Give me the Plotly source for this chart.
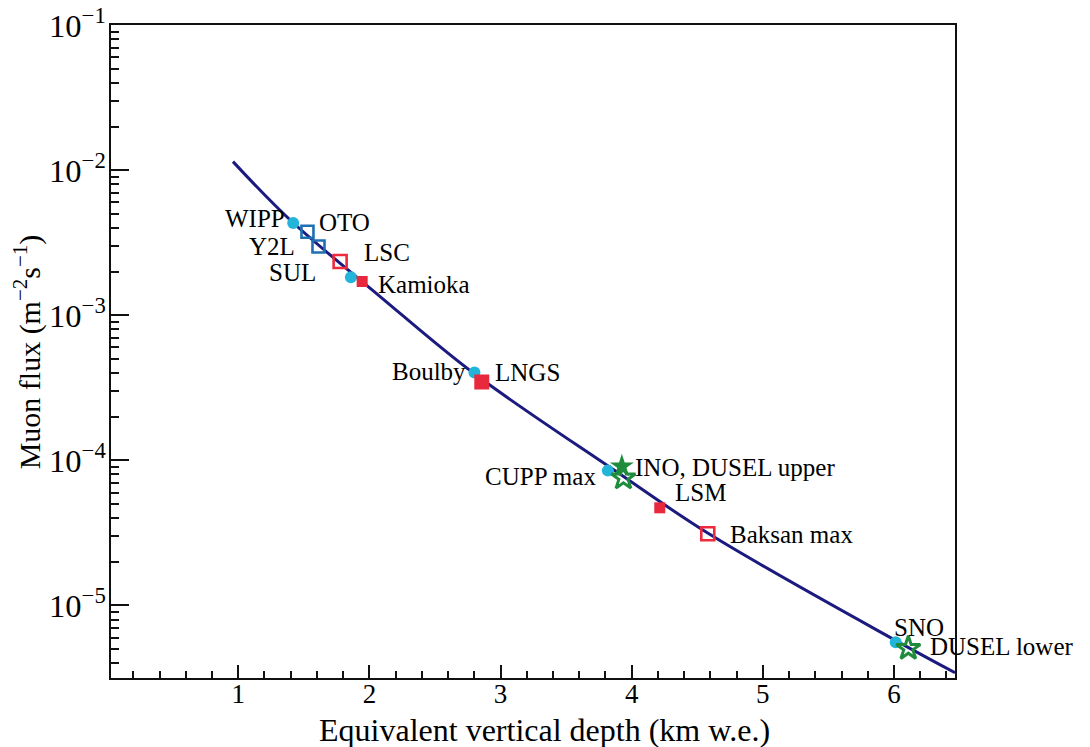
import math
import plotly.graph_objects as go

# ---- data ----
sites = ["WIPP", "OTO", "Y2L", "LSC", "SUL", "Kamioka", "Boulby", "LNGS",
         "CUPP max", "INO", "DUSEL upper", "LSM", "Baksan max", "SNO", "DUSEL lower"]
depth_km_we = [1.419, 1.528, 1.612, 1.777, 1.859, 1.945, 2.801, 2.857,
               3.818, 3.925, 3.937, 4.214, 4.580, 6.013, 6.109]
muon_flux = [4.33e-3, 3.77e-3, 2.98e-3, 2.35e-3, 1.83e-3, 1.71e-3, 4.04e-4, 3.47e-4,
             8.5e-5, 9.1e-5, 7.57e-5, 4.71e-5, 3.12e-5, 5.58e-6, 5.06e-6]

curve_depth = [0.960, 1.396, 2.082, 2.793, 3.860, 4.598, 6.021, 6.465]
curve_flux = [1.146e-2, 4.54e-3, 1.347e-3, 4.0e-4, 8.64e-5, 3.08e-5, 5.68e-6, 3.44e-6]

groups = {
    "cyan_circle": ["WIPP", "SUL", "Boulby", "CUPP max", "SNO"],
    "blue_open_square": ["OTO", "Y2L"],
    "red_open_square": ["LSC", "Baksan max"],
    "red_square": ["Kamioka", "LSM"],
    "red_square_big": ["LNGS"],
    "green_star": ["INO"],
    "green_open_star": ["DUSEL upper", "DUSEL lower"],
}

x_ticks = [1, 2, 3, 4, 5, 6]
x_title = "Equivalent vertical depth (km w.e.)"
y_title = "Muon flux (m<sup>−2</sup>s<sup>−1</sup>)"

# ---- styles ----
styles = {
    "cyan_circle": dict(symbol="circle", size=12, color="#22b5d9", line=dict(width=0)),
    "blue_open_square": dict(symbol="square-open", size=12, color="#1f6fb4", line=dict(width=2.6, color="#1f6fb4")),
    "red_open_square": dict(symbol="square-open", size=13, color="#ee2a3c", line=dict(width=2.6, color="#ee2a3c")),
    "red_square": dict(symbol="square", size=11, color="#e8283c", line=dict(width=0)),
    "red_square_big": dict(symbol="square", size=15, color="#e8283c", line=dict(width=0)),
    "green_star": dict(symbol="star", size=18, color="#1e8c3c", line=dict(width=0)),
    "green_open_star": dict(symbol="star-open", size=18, color="#1e8c3c", line=dict(width=3, color="#1e8c3c")),
}

# label placement: (xanchor, xshift px, yshift px)
label_pos = {
    "WIPP": ("right", -6, 4), "OTO": ("left", 10, 9), "Y2L": ("right", -21, 0),
    "LSC": ("left", 22, 9), "SUL": ("right", -33, 5), "Kamioka": ("left", 14, -3),
    "Boulby": ("right", -6, 1), "LNGS": ("left", 11, 9), "CUPP max": ("right", -10, -6),
    "INO": ("left", 11, -1), "LSM": ("left", 13, 15), "Baksan max": ("left", 20, -1),
    "SNO": ("left", -4, 15), "DUSEL lower": ("left", 20, 2),
}
label_text = {"INO": "INO, DUSEL upper"}

FONT = "Liberation Serif"
AX = "#111"

fig = go.Figure()
fig.add_trace(go.Scatter(x=curve_depth, y=curve_flux, mode="lines",
                         line=dict(color="#1b1b7f", width=3, shape="spline", smoothing=1.0),
                         showlegend=False, hoverinfo="skip"))

idx = {s: i for i, s in enumerate(sites)}
for g, names in groups.items():
    fig.add_trace(go.Scatter(
        x=[depth_km_we[idx[n]] for n in names],
        y=[muon_flux[idx[n]] for n in names],
        mode="markers", marker=styles[g], showlegend=False, cliponaxis=False,
        text=names))

annotations = []
for name, (xa, xs, ys) in label_pos.items():
    i = idx[name]
    annotations.append(dict(x=depth_km_we[i], y=math.log10(muon_flux[i]),
                            xref="x", yref="y", text=label_text.get(name, name),
                            showarrow=False, xanchor=xa, yanchor="middle",
                            xshift=xs, yshift=ys,
                            font=dict(family=FONT, size=25, color="black")))

# axis titles
annotations.append(dict(x=0.514, y=-0.0796, xref="paper", yref="paper", text=x_title,
                        showarrow=False, xanchor="center", yanchor="middle",
                        font=dict(family=FONT, size=32, color="black")))
annotations.append(dict(x=-0.0985, y=0.5, xref="paper", yref="paper", text=y_title,
                        showarrow=False, xanchor="center", yanchor="middle", textangle=-90,
                        font=dict(family=FONT, size=30, color="black")))

fig.update_layout(
    width=1090, height=747,
    margin=dict(l=111, r=135, t=25, b=69),
    paper_bgcolor="white", plot_bgcolor="white",
    font=dict(family=FONT, color="black"),
    annotations=annotations,
    xaxis=dict(
        range=[0.03, 6.465], tickmode="array", tickvals=x_ticks, automargin=False,
        ticks="inside", ticklen=13, tickwidth=2, tickcolor=AX,
        ticklabelstandoff=-9,
        showline=True, linewidth=2, linecolor=AX, mirror=True,
        showgrid=False, zeroline=False,
        tickfont=dict(family=FONT, size=27),
        minor=dict(ticks="inside", ticklen=7, tickwidth=2, tickcolor=AX, dtick=0.2, tick0=0, showgrid=False),
    ),
    yaxis=dict(
        type="log", range=[-5.5, -0.999], dtick=1, tick0=0, exponentformat="power", automargin=False,
        ticklabeloverflow="allow", ticklabelstandoff=-2,
        ticks="inside", ticklen=18, tickwidth=2, tickcolor=AX,
        showline=True, linewidth=2, linecolor=AX, mirror=True,
        showgrid=False, zeroline=False,
        tickfont=dict(family=FONT, size=26),
        minor=dict(ticks="inside", ticklen=8, tickwidth=2, tickcolor=AX, dtick="D1", showgrid=False),
    ),
)

fig.write_html("out.html", post_script="document.body.style.margin='0';",
               config={"displayModeBar": False})
